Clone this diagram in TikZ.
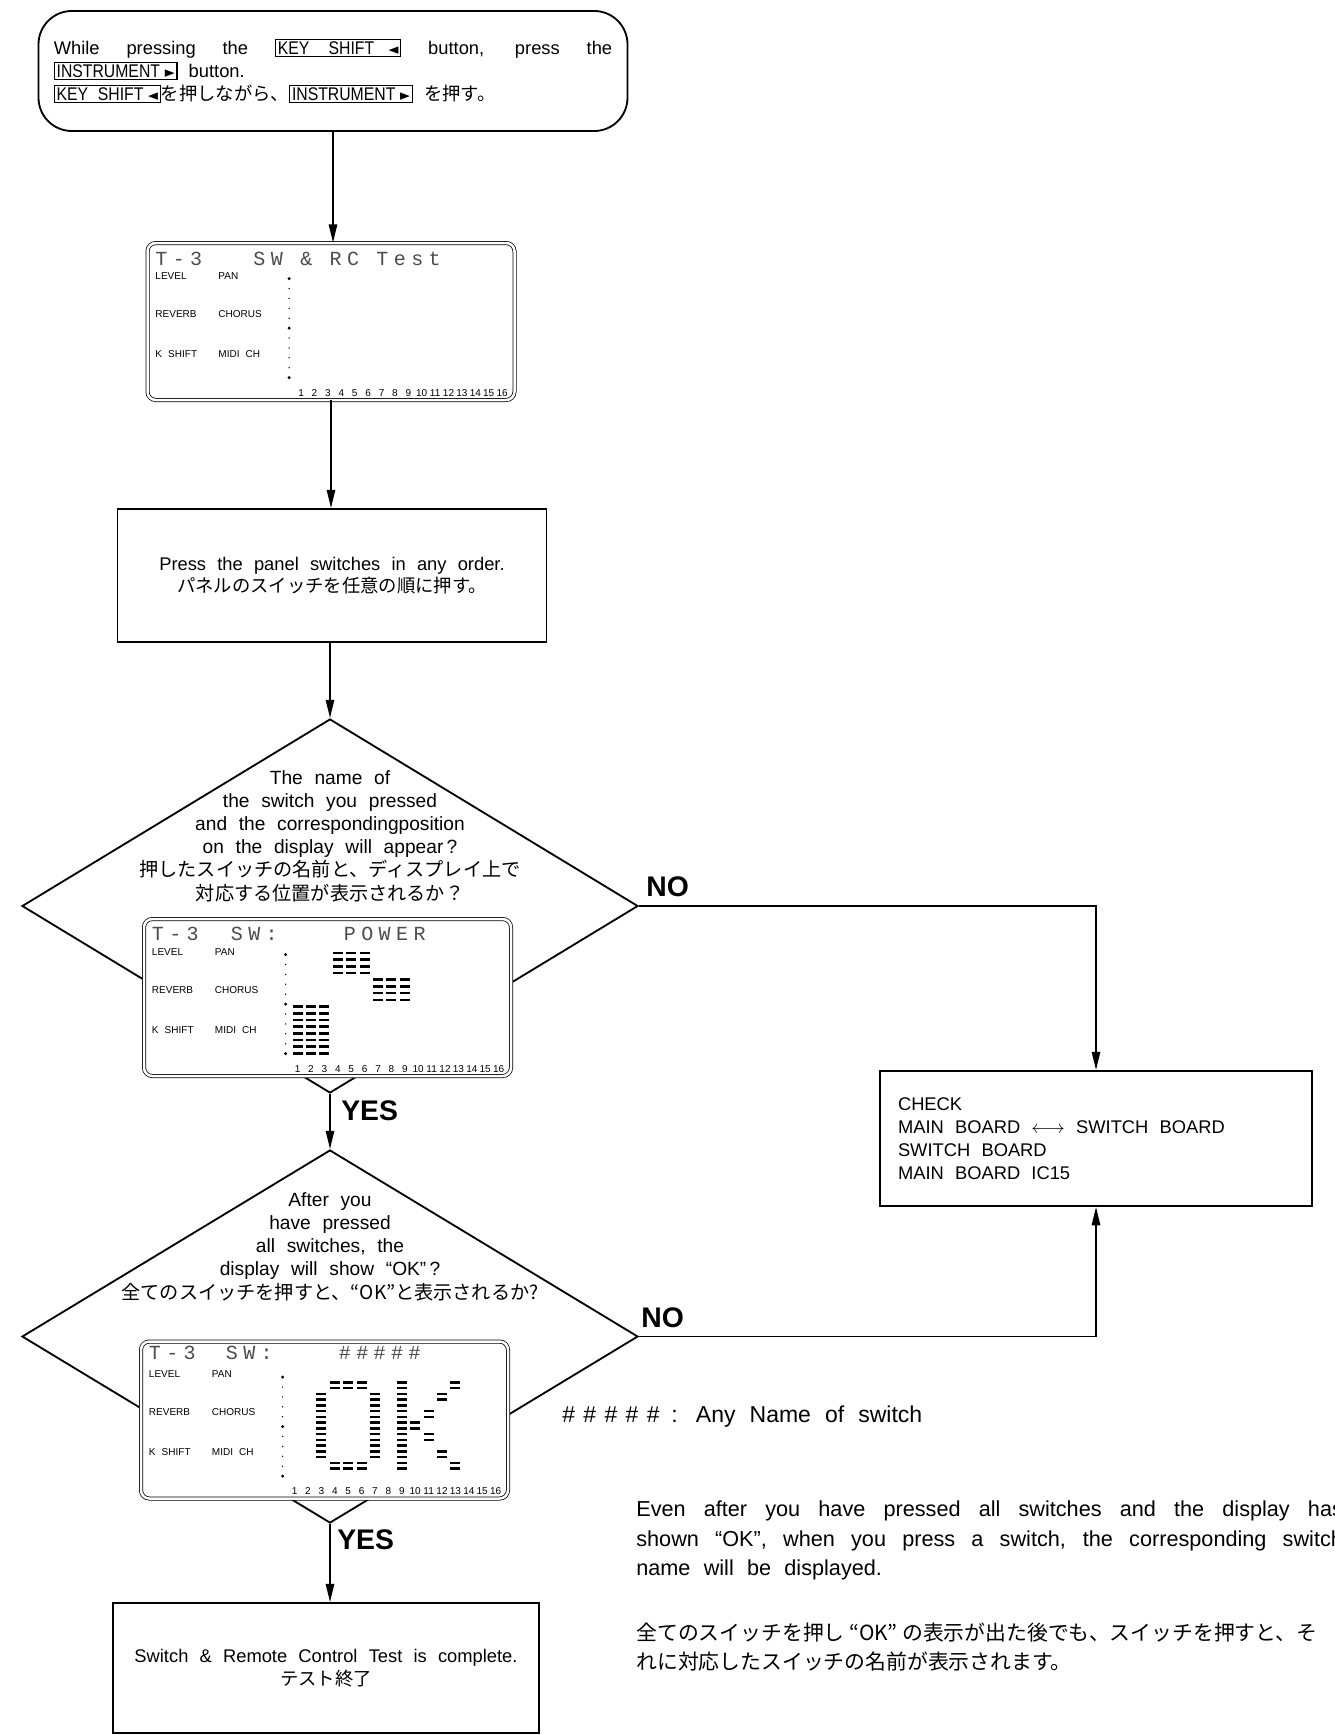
\documentclass[tikz,border=0pt]{standalone}
\usepackage{fontspec}
\setmainfont{Liberation Sans}[WordSpace=2.2]
\newfontfamily\jp{Noto Sans CJK JP}
\newfontfamily\symb{DejaVu Sans}
\newfontfamily\lcdfont{Liberation Mono}[LetterSpace=27]
\usetikzlibrary{arrows.meta,shapes.geometric}
\newcommand{\pxl}{0.6pt}
\newcommand{\tri}[1]{\hspace{.3em}{\symb\fontsize{9}{9}\selectfont#1}}
\newcommand{\btn}[1]{{\fboxsep=1pt\fboxrule=.7pt\fbox{\vphantom{K}\scalebox{.86}[1]{#1}}}}
% labels, dots and column numbers of one LCD (inside a scope at its NW corner)
\newcommand{\lcdgrid}[1]{%
  \foreach \lab/\xx/\yy [count=\k] in {LEVEL/8/33,PAN/71/33,REVERB/8/71,CHORUS/71/71,K SHIFT/8/111,MIDI CH/71/111}
    {\node[lcdlab] (#1lab\k) at (\xx,\yy) {\lab};}
  \foreach \c in {1,...,16}
    {\node[lcdnum] (#1num\c) at ({154+13.4*(\c-1)},150) {\c};}
  \foreach \d in {0,...,10}
    {\fill (142,{36+9.9*\d}) circle[radius=.45pt];}
  \foreach \d in {0,5,10}
    {\fill (142,{36+9.9*\d}) circle[radius=1pt];}
}
% bar segments of column #1 on rows #2
\newcommand{\segs}[2]{%
  \foreach \r in {#2}
    {\fill ({154+13.4*(#1-1)-5},{\rtop+\rgap*\r}) rectangle ++(10,2.6);}
}

\begin{document}
\begin{tikzpicture}[x=0.6pt,y=-0.6pt,
  font=\fontsize{11}{13.8}\selectfont,
  wire/.style={line width=1.1pt},
  arr/.style={wire,-{Triangle[length=11pt,width=5pt]}},
  stepbox/.style={draw,line width=1.1pt,fill=white,inner sep=0pt,align=center},
  decision/.style={diamond,draw,line width=1.1pt,fill=white,inner sep=0pt},
  lcd/.style={draw,double,double distance=1.5pt,line width=.45pt,rounded corners=5pt,
    fill=white,inner sep=0pt,minimum width=367*\pxl,minimum height=157*\pxl},
  lcdlab/.style={anchor=west,inner sep=0pt,font=\fontsize{6}{6}\selectfont},
  lcdnum/.style={inner sep=0pt,font=\fontsize{6}{6}\selectfont},
  lcdhead/.style={anchor=west,inner sep=0pt,text=black!70,font=\lcdfont\fontsize{12}{12}\selectfont},
  answer/.style={anchor=west,inner sep=0pt,font=\fontsize{17}{17}\selectfont\bfseries},
  note/.style={anchor=west,inner sep=0pt,font=\fontsize{13}{17}\selectfont}]
 \useasboundingbox (0,0) rectangle (1334,1735);

 % main column
 \node[stepbox,rounded corners=20pt,minimum width=589*\pxl,minimum height=120*\pxl,
   text width=335pt,align=left] (start) at (333,71) {\spaceskip=0pt\xspaceskip=0pt
   \makebox[335pt][s]{While pressing the \btn{KEY\ \ SHIFT\ \tri{◄}} button, press the}\\
   \btn{INSTRUMENT\tri{►}} button.\\
   \btn{KEY SHIFT\tri{◄}}{\jp を押しながら、}\btn{INSTRUMENT\tri{►}}\ {\jp を押す。}};
 \node[lcd] (disp1) at (331,321.5) {};
 \node[stepbox,minimum width=429*\pxl,minimum height=133*\pxl,
   font=\fontsize{11}{12.8}\selectfont] (press) at (332,575.5)
   {Press the panel switches in any order.\\{\jp パネルのスイッチを任意の順に押す。}};
 \node[decision,minimum width=616*\pxl,minimum height=374*\pxl] (q1) at (330,906) {};
 \node[lcd] (disp2) at (327.5,997.5) {};
 \node[decision,minimum width=616*\pxl,minimum height=373*\pxl] (q2) at (330,1336.5) {};
 \node[lcd] (disp3) at (324.5,1420) {};
 \node[stepbox,minimum width=426*\pxl,minimum height=130*\pxl] (done) at (326,1668)
   {Switch \& Remote Control Test is complete.\\{\jp テスト終了}};
 \node[stepbox,minimum width=432*\pxl,minimum height=135*\pxl,text width=237.6pt,
   align=left] (check) at (1096,1138.5) {\spaceskip=0pt\xspaceskip=0pt
   CHECK\\MAIN BOARD $\longleftrightarrow$ SWITCH BOARD\\SWITCH BOARD\\MAIN BOARD IC15};

 % questions
 \node[align=center,inner sep=0pt,font=\fontsize{11.5}{13.9}\selectfont] (q1txt) at (330,836)
   {The name of\\the switch you pressed\\and the correspondingposition\\on the display will appear\,?\\
    {\jp 押したスイッチの名前と、ディスプレイ上で}\\{\jp 対応する位置が表示されるか？}};
 \node[align=center,inner sep=0pt,font=\fontsize{11.5}{13.9}\selectfont] (q2txt) at (330,1246.5)
   {After you\\have pressed\\all switches, the\\display will show “OK”\,?\\
    {\jp 全てのスイッチを押すと、“OK”と表示されるか?}};

 % connectors
 \draw[arr] (start.south) -- (start.south |- disp1.north);
 \draw[arr] (disp1.south) -- (disp1.south |- press.north);
 \draw[arr] (press.south -| q1.north) -- (q1.north);
 \draw[arr] (q1.south) -- (q2.north);
 \draw[arr] (q2.south) -- (q2.south |- done.north);
 \draw[arr] (q1.east) -| (check.north);
 \draw[arr] (q2.east) -| (check.south);
 \node[answer] (no1) at (646,887) {NO};
 \node[answer] (yes1) at (341,1111) {YES};
 \node[answer] (no2) at (641,1318) {NO};
 \node[answer] (yes2) at (337,1540) {YES};

 % LCD 1
 \begin{scope}[shift={(disp1.north west)}]
  \lcdgrid{done}
  \node[lcdhead] (dhA) at (8,16) {T-3};
  \node[lcdhead] (dhB) at (106,16) {SW \& RC Test};
 \end{scope}
 % LCD 2
 \begin{scope}[shift={(disp2.north west)}]
  \lcdgrid{dtwo}
  \node[lcdhead] (dhC) at (8,15) {T-3};
  \node[lcdhead] (dhD) at (87,15) {SW:};
  \node[lcdhead] (dhE) at (200,15) {POWER};
  \def\rtop{33}\def\rgap{6.7}
  \foreach \c in {4,5,6} {\segs{\c}{0,...,3}}
  \foreach \c in {7,8,9} {\segs{\c}{4,...,7}}
  \foreach \c in {1,2,3} {\segs{\c}{8,...,15}}
 \end{scope}
 % LCD 3
 \begin{scope}[shift={(disp3.north west)}]
  \lcdgrid{dthree}
  \node[lcdhead] (dhF) at (8,12) {T-3};
  \node[lcdhead] (dhG) at (85,12) {SW:};
  \node[lcdhead] (dhH) at (198,12) {\#\#\#\#\#};
  \def\rtop{40}\def\rgap{5.75}
  \segs{3}{2,...,13}
  \segs{7}{2,...,13}
  \foreach \c in {4,5,6} {\segs{\c}{0,1,14,15}}
  \segs{9}{0,...,15}
  \segs{10}{7,8}
  \segs{11}{5,6,9,10}
  \segs{12}{2,3,12,13}
  \segs{13}{0,1,14,15}
 \end{scope}

 % notes
 \node[note,font=\fontsize{13.8}{17}\selectfont] (anyname) at (562,1417)
   {\#\hspace{5pt}\#\hspace{5pt}\#\hspace{5pt}\#\hspace{5pt}\#\hspace{7pt}:\hspace{11pt}Any Name of switch};
 \node[note] (note1) at (636,1511)
   {\makebox[424pt][s]{Even after you have pressed all switches and the display has}};
 \node[note] (note2) at (636,1541)
   {\makebox[424pt][s]{shown “OK”, when you press a switch, the corresponding switch}};
 \node[note] (note3) at (636,1570) {name will be displayed.};
 \node[note,font=\fontsize{12.5}{15}\jp] (note4) at (636,1633)
   {全てのスイッチを押し “OK” の表示が出た後でも、スイッチを押すと、そ};
 \node[note,font=\fontsize{12.5}{15}\jp] (note5) at (636,1662)
   {れに対応したスイッチの名前が表示されます。};
\end{tikzpicture}
\end{document}
